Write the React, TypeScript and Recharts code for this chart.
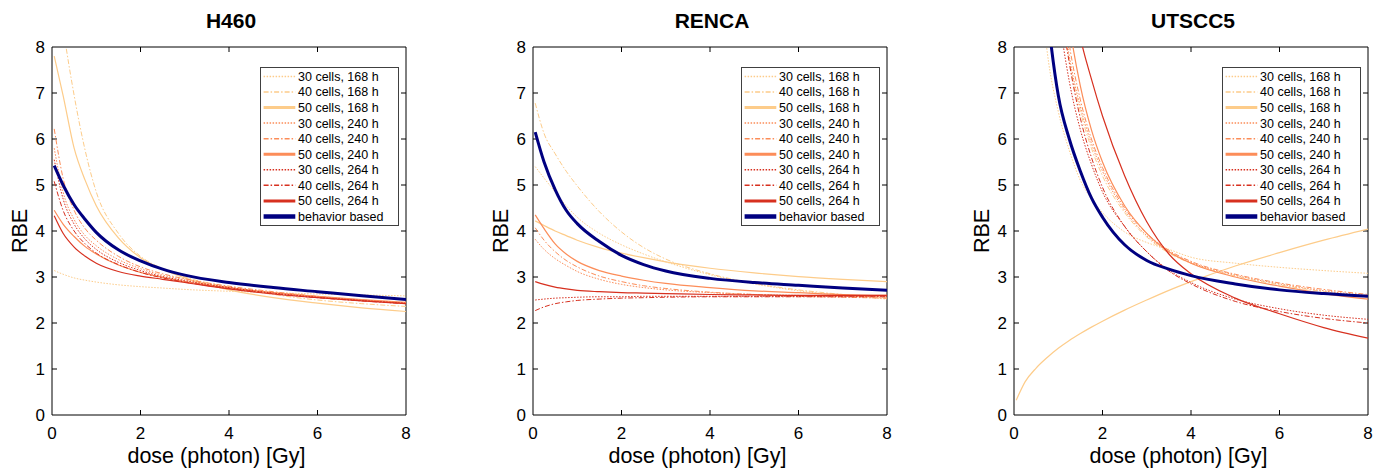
import React from 'react';
import { LineChart, Line, XAxis, YAxis, Legend, ReferenceLine } from 'recharts';

// ---------- data ----------
const panelTitles = ['H460', 'RENCA', 'UTSCC5'];
const xTicks = [0, 2, 4, 6, 8];
const yTicks = [0, 1, 2, 3, 4, 5, 6, 7, 8];
const xLabel = 'dose (photon) [Gy]';
const yLabel = 'RBE';

const seriesKeys = ['c30h168', 'c40h168', 'c50h168', 'c30h240', 'c40h240', 'c50h240', 'c30h264', 'c40h264', 'c50h264', 'behavior'];
const seriesLabels = ['30 cells, 168 h', '40 cells, 168 h', '50 cells, 168 h', '30 cells, 240 h', '40 cells, 240 h', '50 cells, 240 h', '30 cells, 264 h', '40 cells, 264 h', '50 cells, 264 h', 'behavior based'];

// Panel 1 and 2 doses (Gy)
const doseAB = [0.05, 0.25, 0.5, 0.75, 1, 1.5, 2, 2.5, 3, 4, 5, 6, 7, 8];
// Panel 3 doses (Gy)
const doseC = [0.05, 0.25, 0.5, 0.75, 1, 1.25, 1.5, 1.75, 2, 2.5, 3, 3.5, 4, 5, 6, 7, 8];

// H460
const h460_c30h168 = [3.14, 3.06, 2.98, 2.93, 2.89, 2.83, 2.79, 2.76, 2.73, 2.69, 2.66, 2.63, 2.61, 2.59];
const h460_c40h168 = [10.0, 8.45, 6.95, 5.75, 4.85, 3.95, 3.45, 3.18, 3.0, 2.78, 2.62, 2.5, 2.42, 2.36];
const h460_c50h168 = [7.8, 6.95, 5.8, 5.1, 4.55, 3.85, 3.42, 3.17, 2.98, 2.72, 2.55, 2.43, 2.33, 2.25];
const h460_c30h240 = [5.8, 4.85, 4.25, 3.9, 3.68, 3.38, 3.18, 3.04, 2.94, 2.78, 2.66, 2.57, 2.5, 2.44];
const h460_c40h240 = [6.22, 5.15, 4.45, 4.05, 3.8, 3.45, 3.22, 3.07, 2.96, 2.8, 2.68, 2.58, 2.5, 2.43];
const h460_c50h240 = [4.45, 4.15, 3.88, 3.66, 3.5, 3.26, 3.1, 2.99, 2.9, 2.77, 2.66, 2.58, 2.51, 2.45];
const h460_c30h264 = [5.55, 4.7, 4.15, 3.82, 3.6, 3.32, 3.14, 3.01, 2.92, 2.77, 2.65, 2.56, 2.49, 2.43];
const h460_c40h264 = [5.08, 4.45, 4.0, 3.72, 3.52, 3.27, 3.1, 2.98, 2.89, 2.75, 2.64, 2.55, 2.48, 2.42];
const h460_c50h264 = [4.33, 3.95, 3.65, 3.45, 3.3, 3.12, 3.02, 2.95, 2.88, 2.74, 2.63, 2.55, 2.48, 2.42];
const h460_behavior = [5.42, 5.0, 4.57, 4.25, 3.97, 3.59, 3.35, 3.17, 3.04, 2.88, 2.77, 2.68, 2.59, 2.51];

// RENCA
const renca_c30h168 = [5.4, 5.15, 4.85, 4.55, 4.3, 3.95, 3.7, 3.5, 3.33, 3.05, 2.85, 2.7, 2.6, 2.52];
const renca_c40h168 = [6.78, 6.12, 5.68, 5.3, 4.98, 4.42, 3.98, 3.64, 3.39, 3.07, 2.86, 2.72, 2.62, 2.54];
const renca_c50h168 = [4.22, 4.12, 4.0, 3.9, 3.8, 3.64, 3.52, 3.42, 3.33, 3.19, 3.09, 3.01, 2.95, 2.9];
const renca_c30h240 = [3.82, 3.6, 3.4, 3.25, 3.12, 2.95, 2.84, 2.77, 2.72, 2.66, 2.62, 2.6, 2.58, 2.57];
const renca_c40h240 = [4.07, 3.8, 3.55, 3.36, 3.22, 3.02, 2.9, 2.81, 2.75, 2.67, 2.62, 2.58, 2.56, 2.54];
const renca_c50h240 = [4.35, 4.05, 3.72, 3.5, 3.34, 3.14, 3.02, 2.93, 2.86, 2.77, 2.7, 2.66, 2.62, 2.6];
const renca_c30h264 = [2.5, 2.52, 2.54, 2.55, 2.56, 2.57, 2.57, 2.58, 2.58, 2.58, 2.58, 2.58, 2.58, 2.58];
const renca_c40h264 = [2.27, 2.35, 2.42, 2.46, 2.49, 2.52, 2.54, 2.55, 2.56, 2.57, 2.57, 2.57, 2.57, 2.57];
const renca_c50h264 = [2.9, 2.84, 2.78, 2.74, 2.71, 2.68, 2.66, 2.65, 2.64, 2.62, 2.61, 2.6, 2.6, 2.6];
const renca_behavior = [6.15, 5.5, 4.9, 4.45, 4.16, 3.77, 3.47, 3.27, 3.13, 2.97, 2.88, 2.82, 2.76, 2.71];

// UTSCC5
const utscc5_c30h168 = [30, 16, 10.5, 7.9, 6.6, 5.75, 5.1, 4.7, 4.4, 3.98, 3.75, 3.6, 3.43, 3.3, 3.21, 3.14, 3.08];
const utscc5_c40h168 = [50, 26, 16, 11.5, 9.4, 7.7, 6.6, 5.8, 5.2, 4.4, 3.87, 3.52, 3.3, 3.02, 2.83, 2.68, 2.56];
const utscc5_c50h168 = [0.32, 0.72, 1.02, 1.25, 1.45, 1.62, 1.77, 1.91, 2.04, 2.28, 2.5, 2.71, 2.9, 3.24, 3.53, 3.8, 4.04];
const utscc5_c30h240 = [50, 26, 16, 12, 9.6, 7.8, 6.7, 5.9, 5.3, 4.45, 3.9, 3.55, 3.32, 3.04, 2.85, 2.7, 2.6];
const utscc5_c40h240 = [50, 27, 17, 12.5, 9.9, 8.05, 6.85, 6.0, 5.38, 4.5, 3.95, 3.58, 3.34, 3.06, 2.87, 2.73, 2.62];
const utscc5_c50h240 = [55, 29, 18, 13, 10.5, 8.5, 7.15, 6.2, 5.5, 4.55, 3.95, 3.55, 3.3, 3.0, 2.8, 2.64, 2.52];
const utscc5_c30h264 = [50, 25, 15, 11, 8.8, 7.25, 6.2, 5.45, 4.85, 4.1, 3.55, 3.15, 2.88, 2.52, 2.31, 2.17, 2.08];
const utscc5_c40h264 = [50, 26, 16, 11.5, 9.3, 7.65, 6.45, 5.6, 4.95, 4.1, 3.55, 3.13, 2.85, 2.47, 2.25, 2.1, 2.0];
const utscc5_c50h264 = [60, 30, 20, 14.5, 11.5, 9.5, 8.2, 7.3, 6.5, 5.2, 4.2, 3.5, 3.07, 2.54, 2.2, 1.9, 1.67];
const utscc5_behavior = [40, 20, 11.5, 8.8, 6.95, 6.0, 5.3, 4.72, 4.3, 3.7, 3.36, 3.17, 3.03, 2.85, 2.72, 2.64, 2.58];

// ---------- styles ----------
const C168 = '#fdcc8a';
const C240 = '#fc8d59';
const C264 = '#d7301f';
const CBLUE = '#000080';
const DOT = '1.5 1.5';
const DASHDOT = '5 2 1.5 2';

const seriesStyles = [
  { color: C168, dash: DOT, width: 1, legendWidth: 1.5 },
  { color: C168, dash: DASHDOT, width: 1, legendWidth: 1.5 },
  { color: C168, dash: undefined, width: 1.2, legendWidth: 3 },
  { color: C240, dash: DOT, width: 1, legendWidth: 1.5 },
  { color: C240, dash: DASHDOT, width: 1, legendWidth: 1.5 },
  { color: C240, dash: undefined, width: 1.2, legendWidth: 3 },
  { color: C264, dash: DOT, width: 1, legendWidth: 1.5 },
  { color: C264, dash: DASHDOT, width: 1, legendWidth: 1.5 },
  { color: C264, dash: undefined, width: 1.2, legendWidth: 3 },
  { color: CBLUE, dash: undefined, width: 3, legendWidth: 4.5 },
];

function buildRows(doses: number[], series: number[][]) {
  return doses.map((d, i) => {
    const row: Record<string, number> = { d };
    seriesKeys.forEach((k, j) => {
      row[k] = series[j][i];
    });
    return row;
  });
}

const panelRows = [
  buildRows(doseAB, [h460_c30h168, h460_c40h168, h460_c50h168, h460_c30h240, h460_c40h240, h460_c50h240, h460_c30h264, h460_c40h264, h460_c50h264, h460_behavior]),
  buildRows(doseAB, [renca_c30h168, renca_c40h168, renca_c50h168, renca_c30h240, renca_c40h240, renca_c50h240, renca_c30h264, renca_c40h264, renca_c50h264, renca_behavior]),
  buildRows(doseC, [utscc5_c30h168, utscc5_c40h168, utscc5_c50h168, utscc5_c30h240, utscc5_c40h240, utscc5_c50h240, utscc5_c30h264, utscc5_c40h264, utscc5_c50h264, utscc5_behavior]),
];

// ---------- layout ----------
const FONT = 'Liberation Sans, Arial, Helvetica, sans-serif';
const chartLefts = [0, 481, 962];
const YW = 44;
const MT = 39;
const MR = 14;
const PW = 354; // plot width
const PH = 368; // plot height
const XH = 40;
const CW = YW + PW + MR;
const CH = MT + PH + XH;
const TICK = 5;
const X_MAX = 8;
const Y_MAX = 8;
const TICK_DX = (TICK / PW) * X_MAX; // tick length in x-data units
const TICK_DY = (TICK / PH) * Y_MAX; // tick length in y-data units

const LEG_W = 139;
const LEG_H = 159;

const renderLegend = () => (
  <svg width={LEG_W} height={LEG_H} style={{ display: 'block' }}>
    <rect x={0.5} y={0.5} width={LEG_W - 1} height={LEG_H - 1} fill="#fff" stroke="#404040" strokeWidth={1} />
    {seriesStyles.map((s, i) => {
      const cy = 9.4 + i * 15.56;
      return (
        <g key={seriesKeys[i]}>
          <line x1={3.6} x2={35.3} y1={cy} y2={cy} stroke={s.color} strokeWidth={s.legendWidth} strokeDasharray={s.dash} />
          <text x={38} y={cy} dy="0.36em" fontSize={12.5} fontFamily={FONT} fill="#000">
            {seriesLabels[i]}
          </text>
        </g>
      );
    })}
  </svg>
);

const tickStyle = { fill: '#000', fontSize: 17, fontFamily: FONT };

function Panel({ idx }: { idx: number }) {
  const innerX = xTicks.filter((v) => v > 0 && v < X_MAX);
  const innerY = yTicks.filter((v) => v > 0 && v < Y_MAX);
  return (
    <div style={{ position: 'absolute', left: chartLefts[idx], top: 0 }}>
      <LineChart width={CW} height={CH} data={panelRows[idx]} margin={{ top: MT, right: MR, bottom: 0, left: 0 }}>
        <XAxis
          dataKey="d"
          type="number"
          domain={[0, X_MAX]}
          ticks={xTicks}
          interval={0}
          allowDataOverflow
          height={XH}
          tickSize={0}
          tickLine={false}
          tickMargin={12}
          stroke="#000"
          tick={tickStyle}
        />
        <YAxis
          type="number"
          domain={[0, Y_MAX]}
          ticks={yTicks}
          interval={0}
          allowDataOverflow
          width={YW}
          tickSize={0}
          tickLine={false}
          tickMargin={7}
          stroke="#000"
          tick={tickStyle}
        />
        <ReferenceLine y={Y_MAX} stroke="#000" strokeWidth={1} ifOverflow="visible" />
        <ReferenceLine x={X_MAX} stroke="#000" strokeWidth={1} ifOverflow="visible" />
        {innerX.map((v) => (
          <ReferenceLine key={`xb${v}`} segment={[{ x: v, y: 0 }, { x: v, y: TICK_DY }]} stroke="#000" strokeWidth={1} ifOverflow="visible" />
        ))}
        {innerX.map((v) => (
          <ReferenceLine key={`xt${v}`} segment={[{ x: v, y: Y_MAX }, { x: v, y: Y_MAX - TICK_DY }]} stroke="#000" strokeWidth={1} ifOverflow="visible" />
        ))}
        {innerY.map((v) => (
          <ReferenceLine key={`yl${v}`} segment={[{ x: 0, y: v }, { x: TICK_DX, y: v }]} stroke="#000" strokeWidth={1} ifOverflow="visible" />
        ))}
        {innerY.map((v) => (
          <ReferenceLine key={`yr${v}`} segment={[{ x: X_MAX, y: v }, { x: X_MAX - TICK_DX, y: v }]} stroke="#000" strokeWidth={1} ifOverflow="visible" />
        ))}
        <Legend
          layout="vertical"
          align="center"
          verticalAlign="middle"
          content={renderLegend}
          wrapperStyle={{ position: 'absolute', left: YW + 208, top: MT + 20, width: LEG_W, height: LEG_H }}
        />
        {seriesKeys.map((k, j) => (
          <Line
            key={k}
            dataKey={k}
            name={seriesLabels[j]}
            type="monotone"
            stroke={seriesStyles[j].color}
            strokeWidth={seriesStyles[j].width}
            strokeDasharray={seriesStyles[j].dash}
            dot={false}
            activeDot={false}
            isAnimationActive={false}
          />
        ))}
      </LineChart>
    </div>
  );
}

export default function App() {
  return (
    <div style={{ position: 'relative', width: 1370, height: 463, background: '#fff' }}>
      {panelTitles.map((_, i) => (
        <Panel key={i} idx={i} />
      ))}
      <svg width={1370} height={463} style={{ position: 'absolute', left: 0, top: 0, pointerEvents: 'none', overflow: 'visible' }}>
        {panelTitles.map((t, i) => {
          const pl = chartLefts[i] + YW;
          const pc = pl + PW / 2;
          return (
            <g key={t}>
              <text x={pc + 2} y={20.3} textAnchor="middle" fontSize={21} fontWeight="bold" fontFamily={FONT} fill="#000">
                {t}
              </text>
              <text x={pc - 12.5} y={455} textAnchor="middle" fontSize={21.5} fontFamily={FONT} fill="#000">
                {xLabel}
              </text>
              <text
                x={pl - 31.7}
                y={223}
                textAnchor="middle"
                dominantBaseline="central"
                fontSize={21.5}
                fontFamily={FONT}
                fill="#000"
                transform={`rotate(-90 ${pl - 31.7} 223)`}
              >
                {yLabel}
              </text>
            </g>
          );
        })}
      </svg>
    </div>
  );
}
